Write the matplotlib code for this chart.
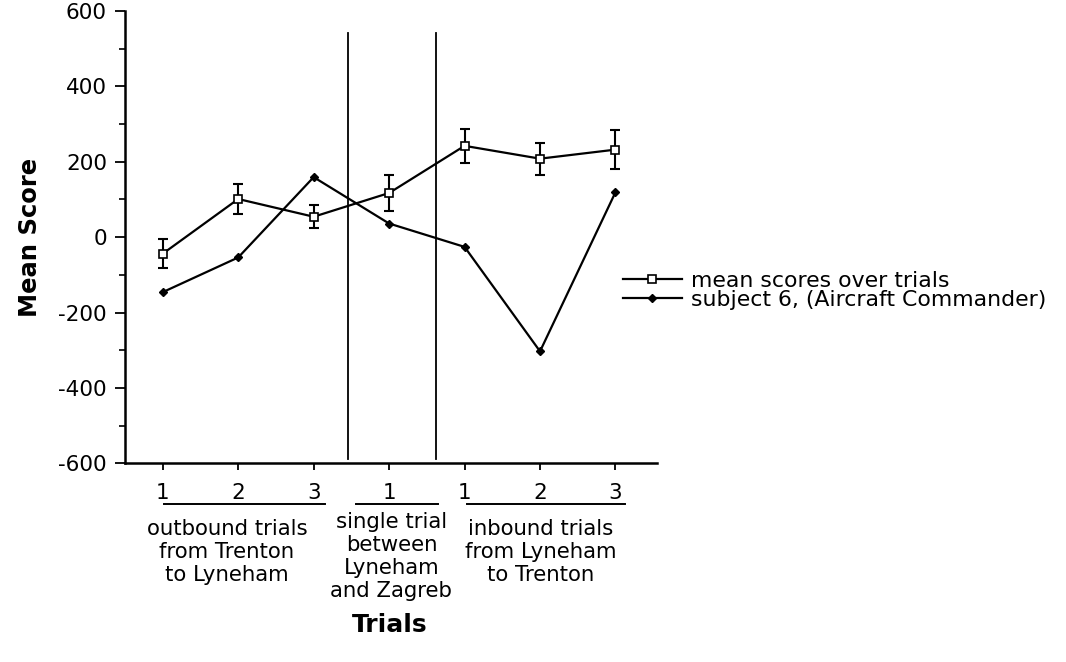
import matplotlib
matplotlib.use("Agg")
import matplotlib.pyplot as plt
from matplotlib.ticker import MultipleLocator

plt.rcParams['font.family'] = ['DejaVu Sans']
plt.rcParams['axes.unicode_minus'] = False

# data
trials = [1, 2, 3, 4, 5, 6, 7]
trial_labels = ['1', '2', '3', '1', '1', '2', '3']
mean_scores = [-44, 101, 54, 117, 242, 208, 232]
mean_err = [38, 40, 31, 49, 45, 42, 52]
subject6 = [-146, -54, 159, 36, -26, -303, 119]
dividers = [3.46, 4.62]
groups = ['outbound trials\nfrom Trenton\nto Lyneham',
          'single trial\nbetween\nLyneham\nand Zagreb',
          'inbound trials\nfrom Lyneham\nto Trenton']
group_x = [1.85, 4.03, 6.01]
group_lines = [(1.02, 3.15), (3.56, 4.65), (5.03, 7.12)]
group_top = [-0.122, -0.108, -0.122]

fig = plt.figure(figsize=(10.66, 6.62), dpi=100)
ax = fig.add_axes([0.1173, 0.3001, 0.499, 0.6835])

ax.errorbar(trials, mean_scores, yerr=mean_err, fmt='none', ecolor='black',
            capsize=3.5, elinewidth=1.5, capthick=1.5)
ax.plot(trials, mean_scores, color='black', lw=1.6, marker='s', ms=6,
        mfc='white', mec='black', mew=1.2, label='mean scores over trials')
ax.plot(trials, subject6, color='black', lw=1.6, marker='D', ms=4.5,
        label='subject 6, (Aircraft Commander)')

for d in dividers:
    ax.plot([d, d], [-589, 540], color='black', lw=1.3)

ax.set_xlim(0.5, 7.55)
ax.set_ylim(-600, 600)
ax.yaxis.set_major_locator(MultipleLocator(200))
ax.yaxis.set_minor_locator(MultipleLocator(100))
ax.set_xticks(trials)
ax.set_xticklabels([])
ax.tick_params(axis='y', which='major', length=7, width=1.3, labelsize=15.5, pad=6)
ax.tick_params(axis='y', which='minor', length=4, width=1.2)
ax.tick_params(axis='x', length=5, width=1.3)
for s in ['top', 'right']:
    ax.spines[s].set_visible(False)
for s in ['left', 'bottom']:
    ax.spines[s].set_linewidth(1.8)

ax.set_ylabel('Mean Score', fontsize=17.5, fontweight='bold', labelpad=12)

# category labels under the axis
xt = ax.get_xaxis_transform()
for x, lab in zip(trials, trial_labels):
    ax.text(x, -0.066, lab, transform=xt, ha='center', va='center', fontsize=15.5)
for (a, b), g, gx, gt in zip(group_lines, groups, group_x, group_top):
    ax.plot([a, b], [-0.089, -0.089], transform=xt, color='black', lw=1.4,
            clip_on=False)
    ax.text(gx, gt, g, transform=xt, ha='center', va='top',
            fontsize=15.3, linespacing=1.19)

fig.text(0.366, 0.056, 'Trials', ha='center', va='center',
         fontsize=18, fontweight='bold')

ax.legend(loc='center left', bbox_to_anchor=(0.584, 0.561),
          bbox_transform=fig.transFigure, frameon=False, fontsize=15.8,
          handlelength=2.7, handletextpad=0.42, labelspacing=-0.05,
          borderpad=0, borderaxespad=0)

fig.savefig('out.png', dpi=100)
